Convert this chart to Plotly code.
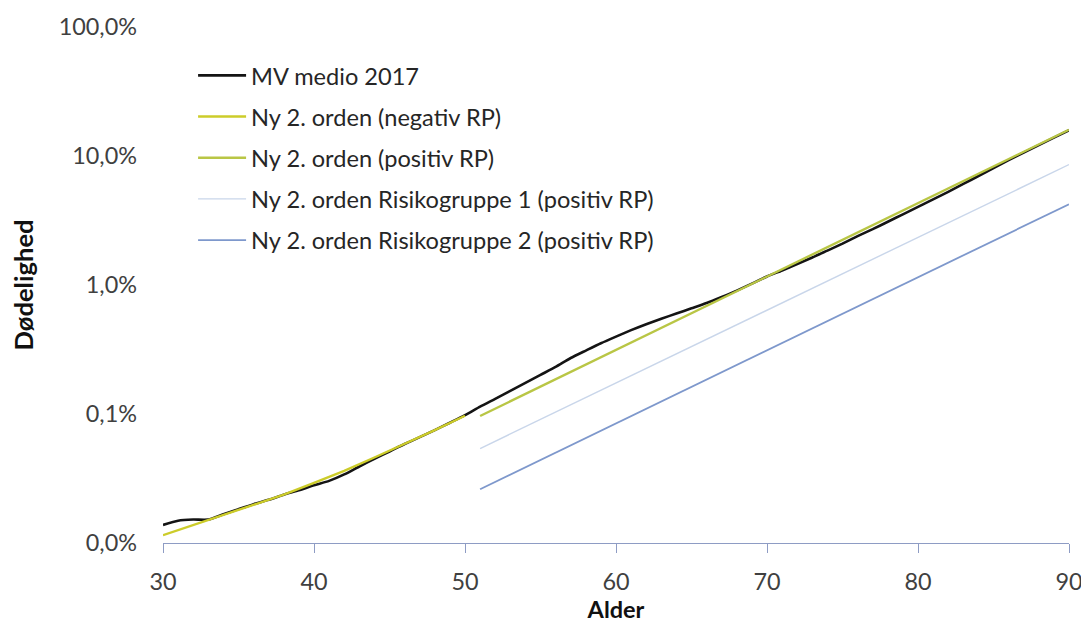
import plotly.graph_objects as go

# ---- data ----
ages_mv = list(range(30, 91))
mv_medio_2017 = [
    1.38e-4, 1.49e-4, 1.52e-4, 1.52e-4, 1.67e-4, 1.83e-4, 2.00e-4, 2.16e-4, 2.37e-4, 2.56e-4,
    2.80e-4, 3.03e-4, 3.40e-4, 3.92e-4, 4.49e-4, 5.12e-4, 5.85e-4, 6.62e-4, 7.50e-4, 8.56e-4,
    9.79e-4, 1.14e-3, 1.31e-3, 1.51e-3, 1.74e-3, 2.01e-3, 2.316e-3, 2.717e-3, 3.103e-3, 3.534e-3,
    3.980e-3, 4.467e-3, 4.967e-3, 5.478e-3, 6.008e-3, 6.601e-3, 7.252e-3, 8.08e-3, 9.05e-3, 1.025e-2,
    1.165e-2, 1.297e-2, 1.456e-2, 1.633e-2, 1.849e-2, 2.094e-2, 2.393e-2, 2.710e-2, 3.093e-2, 3.532e-2,
    4.035e-2, 4.609e-2, 5.268e-2, 6.072e-2, 6.998e-2, 8.072e-2, 9.293e-2, 0.1062, 0.1213, 0.1387,
    0.1585,
]

ages_neg = [30, 32, 34, 36, 38, 40, 42, 44, 46, 48, 50]
neg_rp = [1.15e-4, 1.38e-4, 1.64e-4, 1.96e-4, 2.37e-4, 2.93e-4, 3.62e-4, 4.60e-4, 5.85e-4, 7.50e-4, 9.70e-4]

ages_pos = [51, 55, 60, 65, 70, 75, 80, 85, 90]
pos_rp = [9.65e-4, 1.629e-3, 3.136e-3, 6.04e-3, 1.163e-2, 2.239e-2, 4.311e-2, 8.299e-2, 0.1598]
risiko1 = [5.40e-4, 9.09e-4, 1.740e-3, 3.333e-3, 6.38e-3, 1.223e-2, 2.341e-2, 4.483e-2, 8.58e-2]
risiko2 = [2.61e-4, 4.40e-4, 8.44e-4, 1.621e-3, 3.11e-3, 5.98e-3, 1.147e-2, 2.203e-2, 4.231e-2]

names = [
    "MV medio 2017",
    "Ny 2. orden (negativ RP)",
    "Ny 2. orden (positiv RP)",
    "Ny 2. orden Risikogruppe 1 (positiv RP)",
    "Ny 2. orden Risikogruppe 2 (positiv RP)",
]

y_tickvals = [1e-4, 1e-3, 1e-2, 1e-1, 1]
y_ticktext = ["0,0%", "0,1%", "1,0%", "10,0%", "100,0%"]
x_tickvals = [30, 40, 50, 60, 70, 80, 90]

FONT = "Lato"

fig = go.Figure()
fig.add_trace(go.Scatter(x=ages_mv, y=mv_medio_2017, mode="lines", name=names[0],
                         line=dict(color="#141414", width=2.6, shape="spline", smoothing=0.6),
                         legendgroup="a"))
fig.add_trace(go.Scatter(x=ages_neg, y=neg_rp, mode="lines", name=names[1],
                         line=dict(color="#cccc2a", width=2.4), legendgroup="b"))
fig.add_trace(go.Scatter(x=ages_pos, y=pos_rp, mode="lines", name=names[2],
                         line=dict(color="#b9c645", width=2.4), legendgroup="c"))
fig.add_trace(go.Scatter(x=ages_pos, y=risiko1, mode="lines", name=names[3],
                         line=dict(color="#c9d6ea", width=1.4), legendgroup="d"))
fig.add_trace(go.Scatter(x=ages_pos, y=risiko2, mode="lines", name=names[4],
                         line=dict(color="#7e98cc", width=1.8), legendgroup="e"))

fig.update_layout(
    width=1095, height=626,
    margin=dict(l=163, r=14, t=22, b=79),
    paper_bgcolor="white", plot_bgcolor="white",
    font=dict(family=FONT, size=23.4, color="#404040"),
    showlegend=True,
    legend=dict(x=0.0332, y=0.9486, xanchor="left", yanchor="top",
                bgcolor="rgba(0,0,0,0)", font=dict(family=FONT, size=23.6, color="#262626"),
                tracegroupgap=7.5, itemwidth=48),
)
fig.update_xaxes(
    range=[30, 90], tickvals=x_tickvals, showgrid=False, zeroline=False,
    showline=True, linecolor="#8e9cc4", linewidth=1.2,
    ticks="outside", ticklen=9, tickcolor="#8e9cc4", tickwidth=1.2,
    ticklabelstandoff=9, ticklabeloverflow="allow",
    tickfont=dict(family=FONT, size=23.4, color="#404040"),
    title=dict(text="<b>Alder</b>", font=dict(family=FONT, size=23.5, color="#111111"), standoff=2),
)
fig.update_yaxes(
    type="log", range=[-4, 0], tickvals=y_tickvals, ticktext=y_ticktext,
    showgrid=False, zeroline=False, showline=False, ticks="",
    ticklabelstandoff=25, ticklabeloverflow="allow",
    tickfont=dict(family=FONT, size=23.4, color="#404040"),
    title=dict(text="<b>Dødelighed</b>", font=dict(family=FONT, size=25.6, color="#111111"), standoff=17),
)

fig.write_html(
    "out.html",
    config={"displayModeBar": False},
    post_script="document.body.style.margin='0';document.body.style.overflow='hidden';",
)
